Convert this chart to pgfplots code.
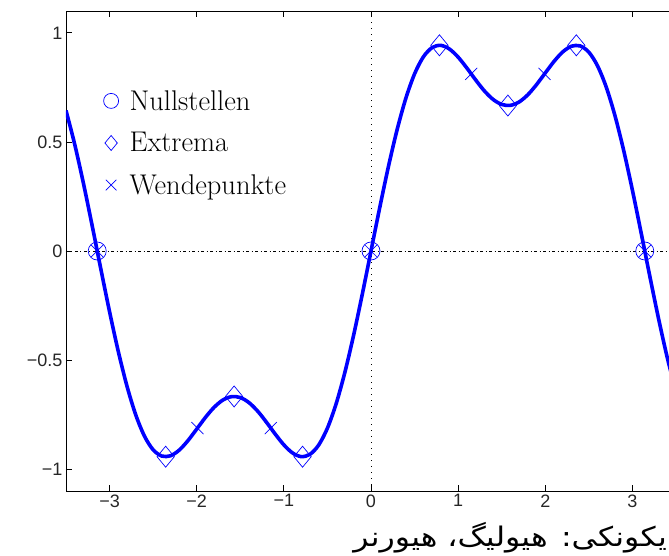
\documentclass[border=0pt]{standalone}
\usepackage{pgfplots}
\pgfplotsset{compat=1.18}
\usepackage{fontspec}
\newfontfamily\ticksf{Liberation Sans}
\newfontfamily\arabicfont[Script=Arabic, FakeStretch=1.17]{DejaVu Sans}
\TeXXeTstate=1
\definecolor{mblue}{RGB}{0,0,255}
\begin{document}
\begin{tikzpicture}
\begin{axis}[
  at={(0pt,0pt)}, anchor=south west,
  scale only axis, width=610pt, height=480pt,
  xmin=-3.5, xmax=3.5, ymin=-1.1, ymax=1.1,
  xtick={-3,-2,-1,0,1,2,3},
  xticklabels={−3,−2,−1,0,1,2,3},
  ytick={-1,-0.5,0,0.5,1},
  yticklabels={−1,−0.5,0,0.5,1},
  tick align=inside,
  major tick length=6pt,
  tick style={black, line width=0.8pt},
  axis line style={black, line width=0.9pt},
  tick label style={font=\ticksf\fontsize{18}{18}\selectfont, text=black!85},
  legend style={draw=none, fill=none, at={(axis cs:-3.105,0.495)}, anchor=west,
    font=\fontsize{28.5}{30}\selectfont, row sep=17pt,
    /tikz/every odd column/.append style={column sep=9pt}},
  legend cell align=left,
  legend image post style={/tikz/mark size=7.5pt},
]
\addplot[forget plot, black, line width=0.8pt, dash pattern=on 1pt off 5pt] coordinates {(0,-1.1) (0,1.1)};
\addplot[forget plot, black, line width=0.8pt, dash pattern=on 3pt off 2.5pt on 1pt off 2.5pt] coordinates {(-3.5,0) (3.5,0)};
\addplot[forget plot, mblue, line width=3.6pt, smooth, tension=0.5] coordinates {
(-3.5,0.64401) (-3.4,0.48883) (-3.3,0.31026) (-3.2,0.11648) (-3.1,-0.08307) (-3.0,-0.27849)
(-2.9,-0.46024) (-2.8,-0.61986) (-2.7,-0.75068) (-2.6,-0.84835) (-2.5,-0.91114) (-2.4,-0.94002)
(-2.3,-0.93852) (-2.2,-0.91235) (-2.1,-0.86881) (-2.0,-0.81616) (-1.9,-0.76274) (-1.8,-0.71626)
(-1.7,-0.68306) (-1.6,-0.66752) (-1.5,-0.67165) (-1.4,-0.69492) (-1.3,-0.73430) (-1.2,-0.78453)
(-1.1,-0.83863) (-1.0,-0.88851) (-0.9,-0.92579) (-0.8,-0.94251) (-0.7,-0.93196) (-0.6,-0.88926)
(-0.5,-0.81193) (-0.4,-0.70010) (-0.3,-0.55663) (-0.2,-0.38688) (-0.1,-0.19834) (0,0)
(0.1,0.19834) (0.2,0.38688) (0.3,0.55663) (0.4,0.70010) (0.5,0.81193) (0.6,0.88926)
(0.7,0.93196) (0.8,0.94251) (0.9,0.92579) (1.0,0.88851) (1.1,0.83863) (1.2,0.78453)
(1.3,0.73430) (1.4,0.69492) (1.5,0.67165) (1.6,0.66752) (1.7,0.68306) (1.8,0.71626)
(1.9,0.76274) (2.0,0.81616) (2.1,0.86881) (2.2,0.91235) (2.3,0.93852) (2.4,0.94002)
(2.5,0.91114) (2.6,0.84835) (2.7,0.75068) (2.8,0.61986) (2.9,0.46024) (3.0,0.27849)
(3.1,0.08307) (3.2,-0.11648) (3.3,-0.31026) (3.4,-0.48883) (3.5,-0.64401)};
\addplot[only marks, mark=o, mark size=9pt, mblue, mark options={fill=white, line width=0.7pt}]
  coordinates {(-3.14159,0) (0,0) (3.14159,0)};
\addlegendentry{Nullstellen}
\addplot[only marks, mark=diamond, mark size=10.5pt, mblue, mark options={fill=white, line width=0.7pt, xscale=1.1}]
  coordinates {(-2.35619,-0.94281) (-1.5708,-0.66667) (-0.7854,-0.94281) (0.7854,0.94281) (1.5708,0.66667) (2.35619,0.94281)};
\addlegendentry{Extrema}
\addplot[only marks, mark=x, mark size=8.5pt, mblue, mark options={line width=0.7pt}]
  coordinates {(-3.14159,0) (-1.9913,-0.81144) (-1.1503,-0.81144) (0,0) (1.1503,0.81144) (1.9913,0.81144) (3.14159,0)};
\addlegendentry{Wendepunkte}
\end{axis}
\node[anchor=base east, inner sep=0pt] at (601pt,-56pt) {\arabicfont\fontsize{27}{27}\selectfont\beginR یکونکی: هیولیگ، هیورنر\endR};
\pgfresetboundingbox
\useasboundingbox (-66pt,-65pt) rectangle (603pt,491pt);
\end{tikzpicture}
\end{document}
